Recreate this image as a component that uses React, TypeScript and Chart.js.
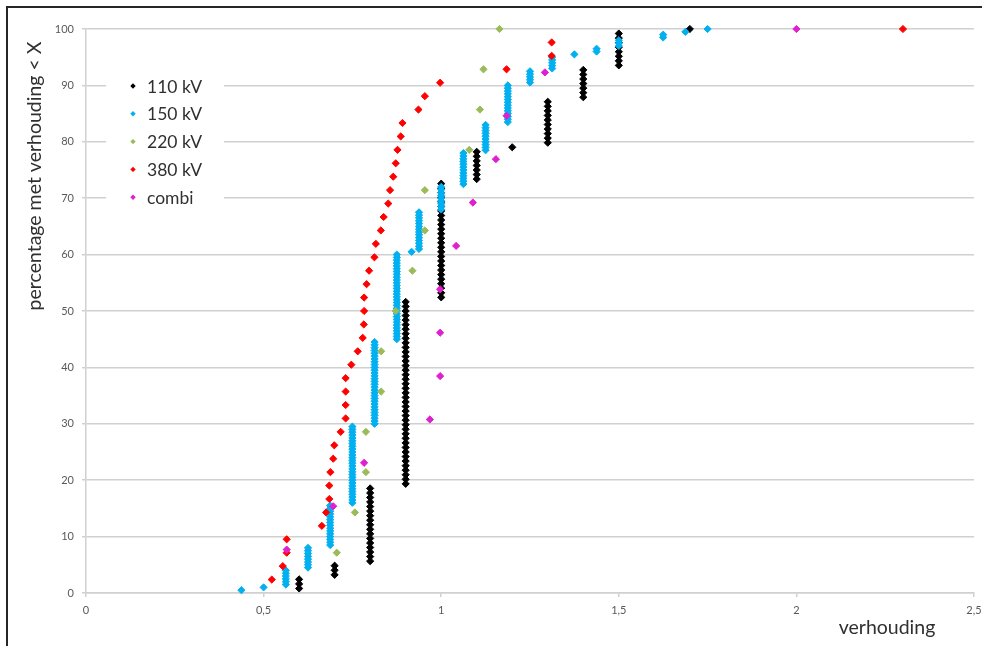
import { useEffect, useRef } from 'react';
import { Chart, registerables } from 'chart.js';

Chart.register(...registerables);

const W = 982;
const H = 646;

// 110 kV: distinct ratios and the number of connections at each ratio
const ratios110 = [0.6, 0.7, 0.8, 0.9, 1.0, 1.1, 1.2, 1.3, 1.4, 1.5, 1.7];
const counts110 = [3, 3, 17, 41, 26, 7, 1, 10, 7, 8, 1];

// 150 kV: distinct ratios and the number of connections at each ratio
const ratios150 = [
  0.4375, 0.5, 0.5625, 0.625, 0.6875, 0.75, 0.8125, 0.875, 0.9167, 0.9375, 1.0,
  1.0625, 1.125, 1.1875, 1.25, 1.3125, 1.375, 1.4375, 1.5, 1.625, 1.6875, 1.75,
];
const counts150 = [1, 1, 6, 8, 15, 28, 30, 31, 1, 14, 9, 12, 10, 14, 5, 5, 1, 2, 3, 2, 1, 1];

// 220 kV: one ratio per connection, sorted
const ratios220 = [
  0.706, 0.757, 0.788, 0.788, 0.831, 0.831, 0.872, 0.919, 0.954, 0.954, 1.079, 1.109, 1.119, 1.164,
];

// 380 kV: one ratio per connection, sorted
const ratios380 = [
  0.523, 0.554, 0.565, 0.565, 0.664, 0.676, 0.685, 0.685, 0.688, 0.696, 0.699, 0.717, 0.731,
  0.731, 0.731, 0.731, 0.747, 0.765, 0.779, 0.782, 0.783, 0.783, 0.79, 0.797, 0.812, 0.816,
  0.83, 0.838, 0.851, 0.856, 0.865, 0.872, 0.877, 0.886, 0.891, 0.936, 0.954, 0.997, 1.184,
  1.311, 1.311, 2.3,
];

// combi: one ratio per connection, sorted
const ratiosCombi = [0.565, 0.696, 0.783, 0.968, 0.997, 0.997, 0.997, 1.042, 1.089, 1.154, 1.184, 1.292, 2.0];

const seriesLabels = ['110 kV', '150 kV', '220 kV', '380 kV', 'combi'];
const seriesColors = ['#000000', '#00b0f0', '#9bbb59', '#ff0000', '#e020d0'];

const xTicks = [0, 0.5, 1, 1.5, 2, 2.5];
const yTicks = [0, 10, 20, 30, 40, 50, 60, 70, 80, 90, 100];

const FONT = 'Lato, "Open Sans", sans-serif';

// Cumulative share (percentage of connections with a ratio up to each point)
function cumulative(ratios: number[], counts?: number[]) {
  const c = counts ?? ratios.map(() => 1);
  const total = c.reduce((a, b) => a + b, 0);
  const pts: { x: number; y: number }[] = [];
  let seen = 0;
  ratios.forEach((r, i) => {
    for (let k = 0; k < c[i]; k++) {
      seen += 1;
      pts.push({ x: r, y: (100 * seen) / total });
    }
  });
  return pts;
}

const seriesPoints = [
  cumulative(ratios110, counts110),
  cumulative(ratios150, counts150),
  cumulative(ratios220),
  cumulative(ratios380),
  cumulative(ratiosCombi),
];

function diamond(ctx: CanvasRenderingContext2D, x: number, y: number, r: number) {
  ctx.beginPath();
  ctx.moveTo(x, y - r);
  ctx.lineTo(x + r, y);
  ctx.lineTo(x, y + r);
  ctx.lineTo(x - r, y);
  ctx.closePath();
  ctx.fill();
}

// Legend inside the plot area plus the two axis titles
const overlayPlugin = {
  id: 'overlay',
  afterDraw(chart: Chart) {
    const { ctx, chartArea } = chart;
    ctx.save();

    const boxLeft = chartArea.left + 20;
    const boxTop = chartArea.top + 36;
    ctx.fillStyle = '#ffffff';
    ctx.fillRect(boxLeft, boxTop, 118, 178);

    ctx.font = `17.5px ${FONT}`;
    ctx.textBaseline = 'middle';
    ctx.textAlign = 'left';
    seriesLabels.forEach((label, i) => {
      const cy = chartArea.top + 57 + i * 27.8;
      ctx.fillStyle = seriesColors[i];
      diamond(ctx, chartArea.left + 47, cy, 2.7);
      ctx.fillStyle = '#303030';
      ctx.fillText(label, chartArea.left + 61, cy + 1);
    });

    ctx.fillStyle = '#303030';
    ctx.font = `19.5px ${FONT}`;
    ctx.textAlign = 'center';
    ctx.fillText('verhouding', 887, 628);

    ctx.translate(35, 176);
    ctx.rotate(-Math.PI / 2);
    ctx.fillText('percentage met verhouding < X', 0, 0);
    ctx.restore();
  },
};

export default function App() {
  const ref = useRef<HTMLCanvasElement>(null);

  useEffect(() => {
    const canvas = ref.current;
    if (!canvas) return;
    const gridColor = '#d0d0d0';
    const chart = new Chart(canvas, {
      type: 'scatter',
      data: {
        datasets: seriesLabels.map((label, i) => ({
          label,
          data: seriesPoints[i],
          pointStyle: 'rectRot',
          pointRadius: 3.6,
          borderWidth: 1,
          backgroundColor: seriesColors[i],
          borderColor: seriesColors[i],
          order: seriesLabels.length - i,
          clip: false,
        })),
      },
      options: {
        responsive: false,
        animation: false,
        devicePixelRatio: 1,
        events: [],
        layout: { padding: { top: 29, right: 8, bottom: 0, left: 0 } },
        plugins: {
          legend: { display: false },
          tooltip: { enabled: false },
        },
        scales: {
          x: {
            type: 'linear',
            min: 0,
            max: 2.5,
            afterFit(scale: any) {
              scale.height = 53;
              scale.paddingLeft = 0;
              scale.paddingRight = 0;
            },
            afterBuildTicks(scale: any) {
              scale.ticks = xTicks.map((v) => ({ value: v }));
            },
            ticks: {
              padding: 7,
              color: '#595959',
              font: { family: FONT, size: 11 },
              maxRotation: 0,
              autoSkip: false,
              callback: (v: any) => String(v).replace('.', ','),
            },
            grid: {
              drawOnChartArea: false,
              drawTicks: true,
              tickLength: 4,
              color: gridColor,
              lineWidth: 1.5,
            },
            border: { display: true, color: gridColor, width: 1.5 },
          },
          y: {
            type: 'linear',
            min: 0,
            max: 100,
            afterFit(scale: any) {
              scale.width = 86;
              scale.paddingTop = 0;
              scale.paddingBottom = 0;
            },
            afterBuildTicks(scale: any) {
              scale.ticks = yTicks.map((v) => ({ value: v }));
            },
            ticks: {
              padding: 8,
              color: '#595959',
              font: { family: FONT, size: 11 },
              autoSkip: false,
            },
            grid: {
              color: gridColor,
              lineWidth: 1.5,
              tickLength: 4,
            },
            border: { display: true, color: gridColor, width: 1.5 },
          },
        },
      },
      plugins: [overlayPlugin],
    });
    return () => chart.destroy();
  }, []);

  return (
    <div style={{ position: 'absolute', left: 0, top: 0, width: W, height: H, background: '#ffffff' }}>
      <canvas ref={ref} width={W} height={H} style={{ display: 'block', width: W, height: H }} />
      <div
        style={{
          position: 'absolute',
          left: 6,
          top: 6,
          right: 0,
          bottom: 0,
          borderTop: '2px solid #262626',
          borderLeft: '2px solid #262626',
          pointerEvents: 'none',
        }}
      />
    </div>
  );
}
